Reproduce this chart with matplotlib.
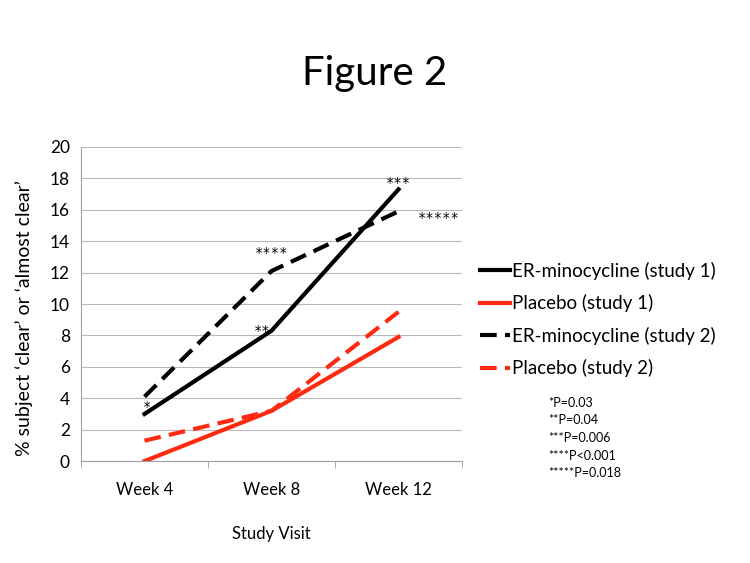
import matplotlib
matplotlib.use('Agg')
import matplotlib.pyplot as plt

plt.rcParams['font.family'] = ['Lato', 'DejaVu Sans']

weeks = ['Week 4', 'Week 8', 'Week 12']
er_study1 = [3.0, 8.3, 17.3]
placebo_study1 = [0.0, 3.2, 7.9]
er_study2 = [4.1, 12.1, 15.9]
placebo_study2 = [1.3, 3.2, 9.5]
series_labels = ['ER-minocycline (study 1)', 'Placebo (study 1)',
                 'ER-minocycline (study 2)', 'Placebo (study 2)']
pvalue_notes = ['*P=0.03', '**P=0.04', '***P=0.006', '****P<0.001', '*****P=0.018']

fig = plt.figure(figsize=(7.5, 5.63), dpi=100)
ax = fig.add_axes([0.108, 0.181, 0.508, 0.558])

x = range(len(weeks))
lw = 3
ax.plot(x, er_study1, color='black', lw=lw, label=series_labels[0])
ax.plot(x, placebo_study1, color='#ff2a12', lw=lw, label=series_labels[1])
ax.plot(x, er_study2, color='black', lw=lw, dashes=(4, 2), label=series_labels[2])
ax.plot(x, placebo_study2, color='#ff2a12', lw=lw, dashes=(4, 2), label=series_labels[3])

ax.set_xlim(-0.5, 2.5)
ax.set_ylim(0, 20)
ax.set_yticks(range(0, 21, 2))
ax.set_xticks(list(x))
ax.set_xticklabels(weeks, fontsize=12)
ax.set_xticks([-0.5, 0.5, 1.5, 2.5], minor=True)
ax.tick_params(axis='x', which='major', length=0, pad=15)
ax.tick_params(axis='x', which='minor', length=5, color='#a0a0a0', direction='out')
ax.tick_params(axis='y', length=0, labelsize=12.5, pad=8)
ax.grid(axis='y', color='#b8b8b8', lw=0.8)
ax.set_axisbelow(True)
for s in ['top', 'right']:
    ax.spines[s].set_visible(False)
ax.spines['left'].set_color('#a0a0a0')
ax.spines['bottom'].set_color('#a0a0a0')

ax.set_ylabel('% subject \u2018clear\u2019 or \u2018almost clear\u2019', fontsize=14)
ax.yaxis.set_label_coords(-0.125, 0.455)
ax.set_xlabel('Study Visit', fontsize=12, labelpad=20)

# significance markers (x, y of the star centre)
stars = [(0.024, 3.7, '*'), (0.93, 8.55, '**'), (1.0, 13.5, '****'),
         (2.0, 17.95, '***'), (2.315, 15.75, '*****')]
for sx, sy, st in stars:
    ax.text(sx, sy - 0.5, st, fontsize=10, ha='center', va='baseline',
            family='DejaVu Sans Mono')

fig.text(0.5, 0.87, 'Figure 2', fontsize=29, ha='center', va='center')

ax.legend(loc='upper left', bbox_to_anchor=(1.047, 0.634), frameon=False,
          borderpad=0, borderaxespad=0,
          fontsize=13.5, handlelength=1.6, handletextpad=0.1, labelspacing=0.77)

for i, note in enumerate(pvalue_notes):
    fig.text(0.731, 1 - (403 + i * 17.5) / 563, note, fontsize=9, va='center')

fig.savefig('out.png', dpi=100, facecolor='white')
